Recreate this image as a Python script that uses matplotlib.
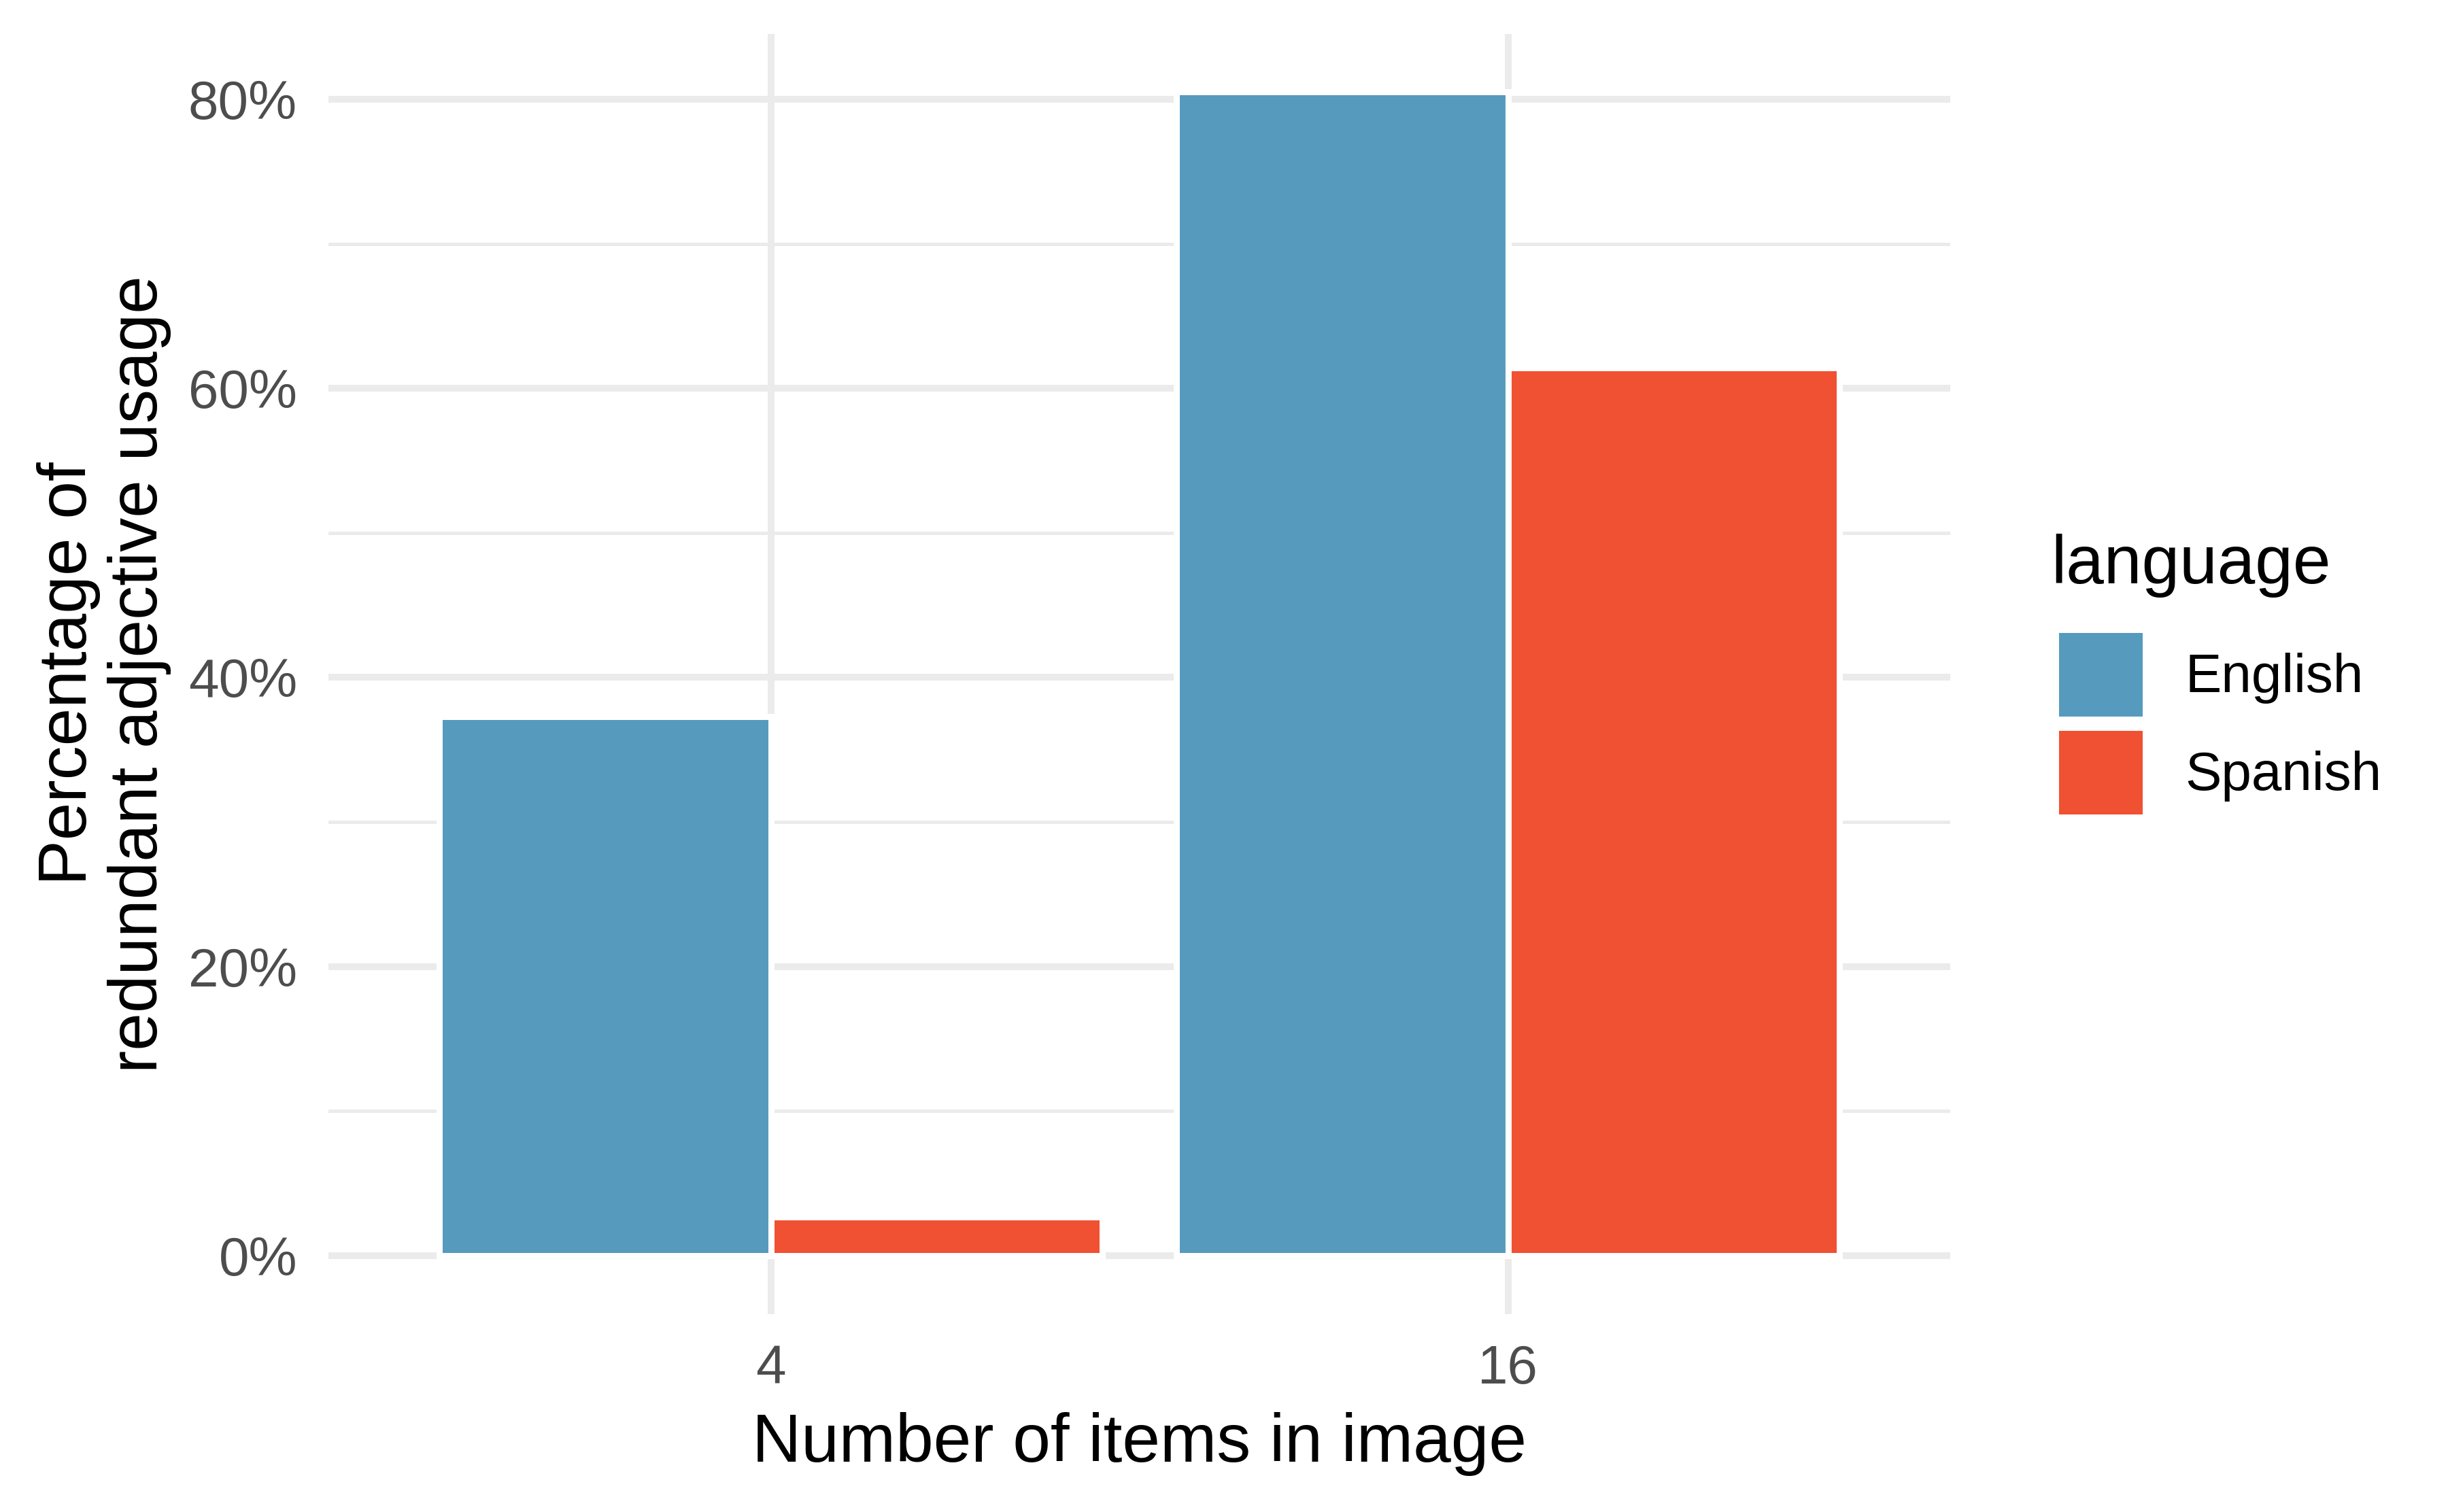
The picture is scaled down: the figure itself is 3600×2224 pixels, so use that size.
import matplotlib
matplotlib.use('Agg')
import matplotlib.pyplot as plt
import numpy as np
from matplotlib.patches import Patch
from matplotlib.ticker import FuncFormatter, MultipleLocator

plt.rcParams['font.family'] = ['Liberation Sans', 'DejaVu Sans']

# ---- data ----
items = ['4', '16']
languages = ['English', 'Spanish']
english_pct = [37.3, 80.5]
spanish_pct = [2.7, 61.4]
colors = ['#569BBD', '#F05133']

xlabel = 'Number of items in image'
ylabel = 'Percentage of\nredundant adjective usage'
legend_title = 'language'

W, H, DPI = 3600, 2224, 300
fig = plt.figure(figsize=(W / DPI, H / DPI), dpi=DPI)
left, right, bottom, top = 483.3 / W, 2868.0 / W, 1 - 1932.5 / H, 1 - 49.7 / H
ax = fig.add_axes([left, bottom, right - left, top - bottom])

x = np.arange(len(items))
w = 0.45
series = [english_pct, spanish_pct]
for i, (vals, c, lab) in enumerate(zip(series, colors, languages)):
    ax.bar(x + (i - 0.5) * w, vals, width=w, color=c, edgecolor='white',
           linewidth=2.16, zorder=3, label=lab)

ax.set_xlim(-0.6, len(items) - 1 + 0.6)
ymax = max(max(s) for s in series)
ax.set_ylim(-0.05 * ymax, 1.05 * ymax)

ax.set_xticks(x)
ax.set_xticklabels(items)
ax.yaxis.set_major_locator(MultipleLocator(20))
ax.yaxis.set_minor_locator(MultipleLocator(10))
ax.yaxis.set_major_formatter(FuncFormatter(lambda v, p: f'{int(round(v))}%'))

ax.set_axisbelow(True)
ax.grid(which='major', color='#EBEBEB', linewidth=2.4, zorder=0)
ax.grid(which='minor', axis='y', color='#EBEBEB', linewidth=1.2, zorder=0)
ax.tick_params(axis='both', which='both', length=0, labelsize=19.2, labelcolor='#4D4D4D')
ax.tick_params(axis='y', pad=11.1)
ax.tick_params(axis='x', pad=10.6)
for s in ax.spines.values():
    s.set_visible(False)

ax.set_xlabel(xlabel, fontsize=24, color='black', labelpad=6)
ax.set_ylabel(ylabel, fontsize=24, color='black', labelpad=6, linespacing=1.13)

# legend: title as separate text, keys via fig.legend
fig.text(3016 / W, 1 - 858 / H, legend_title, fontsize=24, color='black',
         ha='left', va='baseline')
handles = [Patch(facecolor=c, edgecolor='none', linewidth=0) for c in colors]
leg = fig.legend(handles=handles, labels=languages,
                 loc='upper left', bbox_to_anchor=(3028 / W, 1 - 931 / H),
                 frameon=False, fontsize=19.2,
                 handlelength=1.54, handleheight=1.992, handletextpad=0.78,
                 labelspacing=0.2625, borderpad=0, borderaxespad=0)

fig.savefig('out.png', dpi=DPI, facecolor='white')
